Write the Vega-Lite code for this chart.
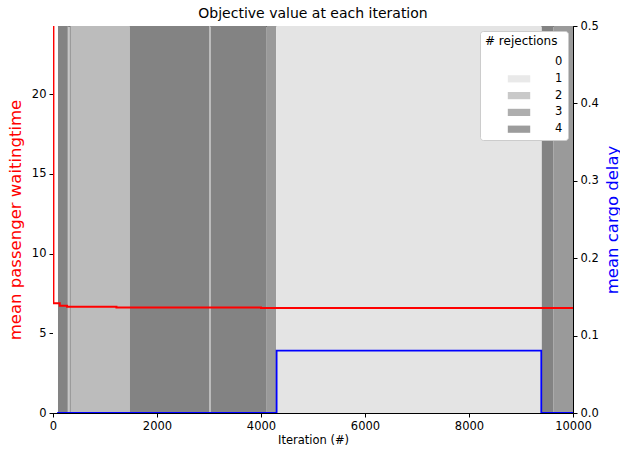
{
  "$schema": "https://vega.github.io/schema/vega-lite/v6.json",
  "width": 520,
  "height": 387,
  "autosize": {"type": "none"},
  "padding": {"left": 53, "top": 26, "right": 47, "bottom": 36},
  "background": "white",
  "config": {
    "font": "DejaVu Sans",
    "view": {"stroke": "black", "strokeWidth": 1},
    "axis": {"grid": false, "domainColor": "black", "tickColor": "black", "labelColor": "black", "labelFontSize": 11.5, "tickSize": 4, "labelPadding": 3, "titleFontWeight": "normal", "labelFlush": false},
    "title": {"fontSize": 14, "fontWeight": "normal", "offset": 6, "dy": 7},
    "legend": {"orient": "top-right", "offset": 5, "fillColor": "white", "strokeColor": "#cccccc", "cornerRadius": 3, "padding": 5, "titleFontWeight": "normal", "titleFontSize": 12, "labelFontSize": 11.5, "symbolOpacity": 0.8, "symbolStrokeWidth": 0, "rowPadding": 2.8, "titlePadding": 6}
  },
  "title": "Objective value at each iteration",
  "datasets": {
    "bands": [
      {"start": 0, "end": 96, "rej": 0},
      {"start": 96, "end": 270, "rej": 4},
      {"start": 270, "end": 296, "rej": 3},
      {"start": 296, "end": 318, "rej": 2},
      {"start": 318, "end": 346, "rej": 3},
      {"start": 346, "end": 1480, "rej": 2},
      {"start": 1480, "end": 3000, "rej": 4},
      {"start": 3000, "end": 3035, "rej": 2},
      {"start": 3035, "end": 4110, "rej": 4},
      {"start": 4110, "end": 4290, "rej": 3},
      {"start": 4290, "end": 9400, "rej": 1},
      {"start": 9400, "end": 9620, "rej": 4},
      {"start": 9620, "end": 10000, "rej": 3}
    ],
    "pax": [
      {"iter": 0, "wait": 24.3},
      {"iter": 8, "wait": 6.88},
      {"iter": 130, "wait": 6.73},
      {"iter": 270, "wait": 6.67},
      {"iter": 1220, "wait": 6.61},
      {"iter": 4000, "wait": 6.59},
      {"iter": 10000, "wait": 6.58}
    ],
    "cargo": [
      {"iter": 80, "delay": 0},
      {"iter": 4300, "delay": 0.0805},
      {"iter": 9390, "delay": 0},
      {"iter": 10000, "delay": 0}
    ]
  },
  "layer": [
    {
      "data": {"name": "bands"},
      "mark": {"type": "rect"},
      "encoding": {
        "x": {"field": "start", "type": "quantitative", "scale": {"domain": [0, 10000], "nice": false}, "axis": {"title": "Iteration (#)", "titleFontSize": 11.5, "titlePadding": 3, "format": "d", "values": [0, 2000, 4000, 6000, 8000, 10000]}},
        "x2": {"field": "end"},
        "color": {
          "field": "rej", "type": "ordinal",
          "scale": {"domain": [0, 1, 2, 3, 4], "range": ["#ffffff", "#e4e4e4", "#bcbcbc", "#9a9a9a", "#838383"]},
          "legend": {"title": "# rejections", "symbolType": "M-1.4,-0.45L1.4,-0.45L1.4,0.45L-1.4,0.45Z", "symbolSize": 256, "symbolOffset": 26, "labelOffset": 28}
        }
      }
    },
    {
      "data": {"name": "pax"},
      "mark": {"type": "line", "color": "#ff0000", "interpolate": "step-after", "strokeWidth": 2, "clip": true},
      "encoding": {
        "x": {"field": "iter", "type": "quantitative"},
        "y": {"field": "wait", "type": "quantitative", "scale": {"domain": [0, 24.27], "nice": false}, "axis": {"orient": "left", "title": "mean passenger waitingtime", "titleColor": "#ff0000", "titleFontSize": 16.5, "titlePadding": 8, "values": [0, 5, 10, 15, 20]}}
      }
    },
    {
      "data": {"name": "cargo"},
      "mark": {"type": "line", "color": "#0000ff", "interpolate": "step-after", "strokeWidth": 1.8, "clip": true},
      "encoding": {
        "x": {"field": "iter", "type": "quantitative"},
        "y": {"field": "delay", "type": "quantitative", "scale": {"domain": [0, 0.5], "nice": false}, "axis": {"orient": "right", "title": "mean cargo delay", "titleColor": "#0000ff", "titleFontSize": 16.5, "titleAngle": 270, "titleX": 39, "titleY": 193.5, "titleAlign": "center", "titleBaseline": "middle", "format": ".1f", "values": [0, 0.1, 0.2, 0.3, 0.4, 0.5]}}
      }
    }
  ],
  "resolve": {"scale": {"y": "independent"}}
}
